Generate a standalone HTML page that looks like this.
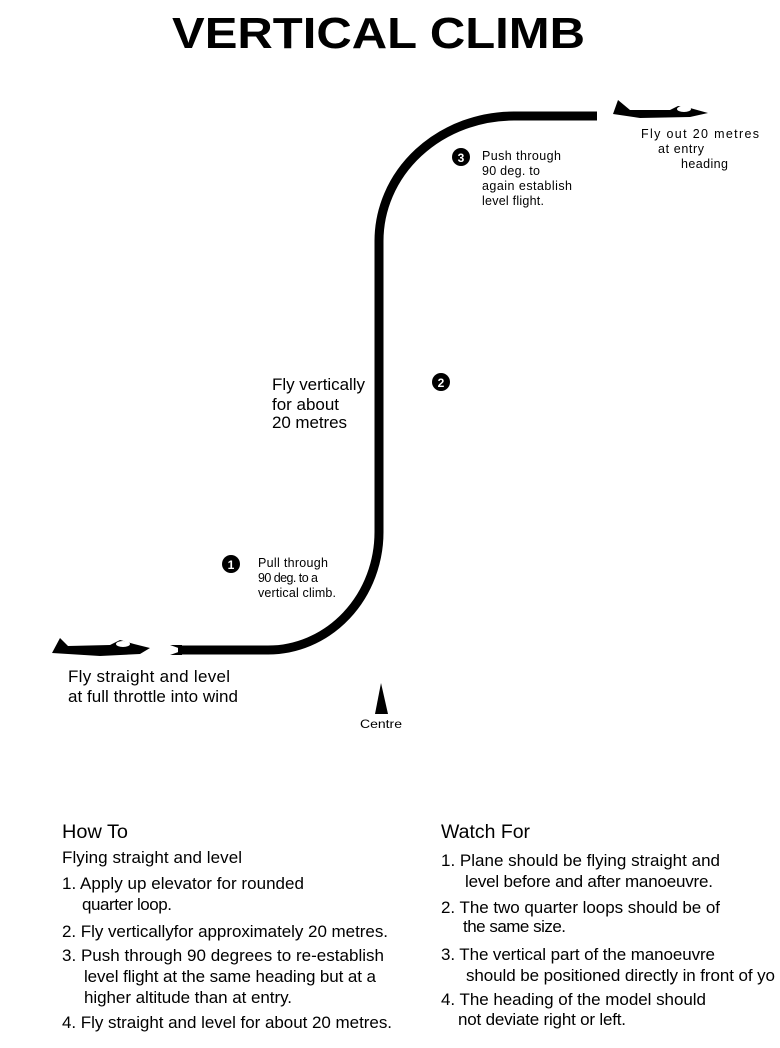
<!DOCTYPE html>
<html><head><style>
html,body{margin:0;padding:0;background:#fff;}
svg{display:block;}
text{font-family:"Liberation Sans",sans-serif;fill:#000;}
</style></head><body>
<svg width="780" height="1048" viewBox="0 0 780 1048">
<text x="172" y="48" font-size="44" font-weight="bold" textLength="413" lengthAdjust="spacingAndGlyphs">VERTICAL CLIMB</text>

<path d="M178 650 L268 650 A111 118 0 0 0 379 532 L379 241 A135 125 0 0 1 514 116 L597 116" fill="none" stroke="#000" stroke-width="9"/>
<polygon points="170,645 184,650 170,655 182,655 182,645" fill="#000"/>

<polygon points="52,653 60,638 68,646 110,645 120,640 134,644 150,648 140,654 100,656" fill="#000"/>
<ellipse cx="123" cy="644" rx="7" ry="3" fill="#fff"/>
<polygon points="613,114 618,100 630,110 670,110 678,106 690,108 708,113 690,117 640,118" fill="#000"/>
<ellipse cx="684" cy="109" rx="7" ry="3" fill="#fff"/>

<polygon points="381,683 375,714 388,714" fill="#000"/>
<text x="360" y="728" font-size="12" textLength="42" lengthAdjust="spacingAndGlyphs">Centre</text>

<circle cx="231" cy="564" r="9" fill="#000"/><text x="231" y="569" font-size="12" font-weight="bold" text-anchor="middle" style="fill:#fff">1</text>
<circle cx="441" cy="382" r="9" fill="#000"/><text x="441" y="387" font-size="12" font-weight="bold" text-anchor="middle" style="fill:#fff">2</text>
<circle cx="461" cy="157" r="9" fill="#000"/><text x="461" y="162" font-size="12" font-weight="bold" text-anchor="middle" style="fill:#fff">3</text>

<g font-size="12.5" lengthAdjust="spacingAndGlyphs">
<text x="258" y="567" textLength="70">Pull through</text>
<text x="258" y="582" textLength="60">90 deg. to a</text>
<text x="258" y="597" textLength="78">vertical climb.</text>
<text x="482" y="160" textLength="79">Push through</text>
<text x="482" y="175" textLength="58">90 deg. to</text>
<text x="482" y="190" textLength="90">again establish</text>
<text x="482" y="205" textLength="62">level flight.</text>
<text x="641" y="138" textLength="118">Fly out 20 metres</text>
<text x="658" y="153" textLength="46">at entry</text>
<text x="681" y="168" textLength="47">heading</text>
</g>

<g font-size="17" lengthAdjust="spacingAndGlyphs">
<text x="272" y="390" textLength="93">Fly vertically</text>
<text x="272" y="410" textLength="67">for about</text>
<text x="272" y="428" textLength="75">20 metres</text>
<text x="68" y="682" textLength="162">Fly straight and level</text>
<text x="68" y="702" textLength="170">at full throttle into wind</text>
</g>

<text x="62" y="838" font-size="19" textLength="66" lengthAdjust="spacingAndGlyphs">How To</text>
<text x="441" y="838" font-size="19" textLength="89" lengthAdjust="spacingAndGlyphs">Watch For</text>
<g font-size="17" lengthAdjust="spacingAndGlyphs">
<text x="62" y="863" textLength="180">Flying straight and level</text>
<text x="62" y="889" textLength="242">1. Apply up elevator for rounded</text>
<text x="82" y="910" textLength="90">quarter loop.</text>
<text x="62" y="937" textLength="326">2. Fly verticallyfor approximately 20 metres.</text>
<text x="62" y="961" textLength="322">3. Push through 90 degrees to re-establish</text>
<text x="84" y="982" textLength="292">level flight at the same heading but at a</text>
<text x="84" y="1003" textLength="208">higher altitude than at entry.</text>
<text x="62" y="1028" textLength="330">4. Fly straight and level for about 20 metres.</text>
<text x="441" y="866" textLength="279">1. Plane should be flying straight and</text>
<text x="465" y="887" textLength="248">level before and after manoeuvre.</text>
<text x="441" y="913" textLength="279">2. The two quarter loops should be of</text>
<text x="463" y="932" textLength="103">the same size.</text>
<text x="441" y="960" textLength="274">3. The vertical part of the manoeuvre</text>
<text x="466" y="981" textLength="309">should be positioned directly in front of yo</text>
<text x="441" y="1005" textLength="265">4. The heading of the model should</text>
<text x="458" y="1025" textLength="168">not deviate right or left.</text>
</g>
</svg>
</body></html>
